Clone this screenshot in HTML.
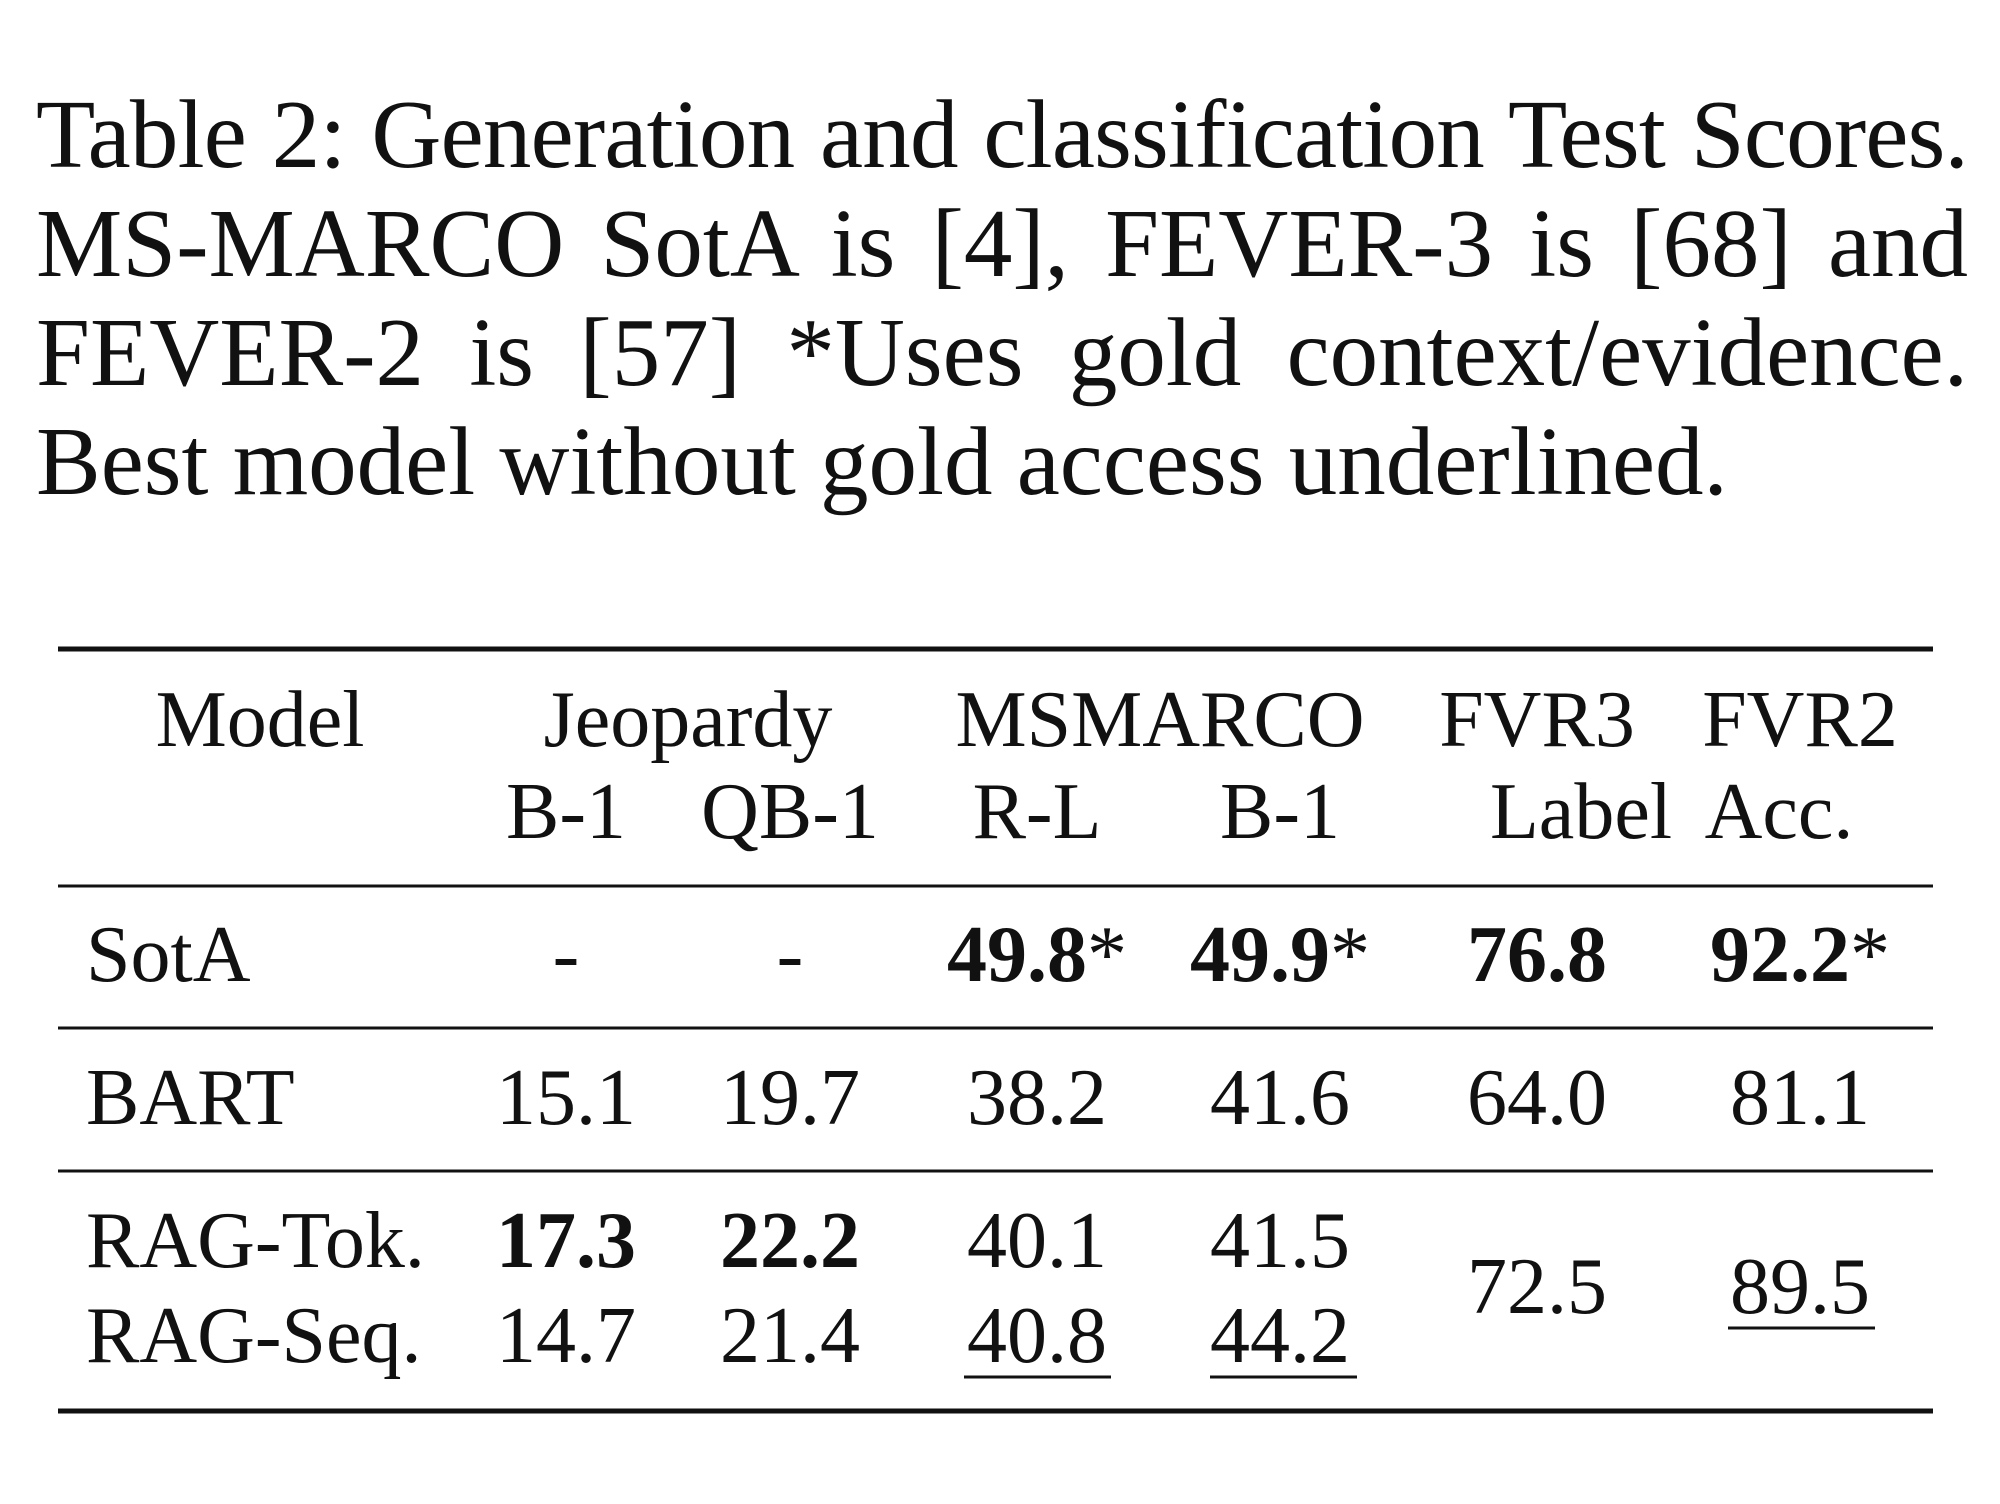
<!DOCTYPE html>
<html><head><meta charset="utf-8"><style>
body{margin:0;background:#fff;width:2000px;height:1504px;overflow:hidden;position:relative;font-family:"Liberation Serif",serif;color:#111}
.c{position:absolute;left:36px;width:1932px;font-size:97px;line-height:97px;white-space:nowrap;text-align:justify;text-align-last:justify}
svg{position:absolute;left:0;top:0}
</style></head><body>
<div class="c" style="top:86px;letter-spacing:-0.8px">Table 2: Generation and classification Test Scores.</div>
<div class="c" style="top:195px">MS-MARCO SotA is [4], FEVER-3 is [68] and</div>
<div class="c" style="top:304px">FEVER-2 is [57] *Uses gold context/evidence.</div>
<div class="c" style="top:413px;text-align:left;text-align-last:left">Best model without gold access underlined.</div>
<svg width="2000" height="1504" font-family="Liberation Serif, serif" font-size="80" fill="#111">
<g stroke="#111">
<line x1="58" x2="1933" y1="649" y2="649" stroke-width="5"/>
<line x1="58" x2="1933" y1="886" y2="886" stroke-width="3"/>
<line x1="58" x2="1933" y1="1028" y2="1028" stroke-width="3"/>
<line x1="58" x2="1933" y1="1171" y2="1171" stroke-width="3"/>
<line x1="58" x2="1933" y1="1411" y2="1411" stroke-width="5"/>
<line x1="964" x2="1111" y1="1377" y2="1377" stroke-width="3"/>
<line x1="1210" x2="1357" y1="1377" y2="1377" stroke-width="3"/>
<line x1="1728" x2="1875" y1="1328" y2="1328" stroke-width="3"/>
</g>
<g text-anchor="middle">
<text x="260" y="746">Model</text>
<text x="688" y="746">Jeopardy</text>
<text x="1160" y="746">MSMARCO</text>
<text x="1537" y="746">FVR3</text>
<text x="1800" y="746">FVR2</text>
<text x="566" y="838">B-1</text>
<text x="790" y="838">QB-1</text>
<text x="1037" y="838">R-L</text>
<text x="1280" y="838">B-1</text>
<text x="1581" y="838">Label</text>
<text x="1779" y="838">Acc.</text>
<text x="566" y="981">-</text>
<text x="790" y="981">-</text>
<text x="1037" y="981"><tspan font-weight="bold">49.8</tspan>*</text>
<text x="1280" y="981"><tspan font-weight="bold">49.9</tspan>*</text>
<text x="1537" y="981" font-weight="bold">76.8</text>
<text x="1800" y="981"><tspan font-weight="bold">92.2</tspan>*</text>
<text x="566" y="1124">15.1</text>
<text x="790" y="1124">19.7</text>
<text x="1037" y="1124">38.2</text>
<text x="1280" y="1124">41.6</text>
<text x="1537" y="1124">64.0</text>
<text x="1800" y="1124">81.1</text>
<text x="566" y="1267" font-weight="bold">17.3</text>
<text x="790" y="1267" font-weight="bold">22.2</text>
<text x="1037" y="1267">40.1</text>
<text x="1280" y="1267">41.5</text>
<text x="566" y="1362">14.7</text>
<text x="790" y="1362">21.4</text>
<text x="1037" y="1362">40.8</text>
<text x="1280" y="1362">44.2</text>
<text x="1537" y="1313">72.5</text>
<text x="1800" y="1313">89.5</text>
</g>
<text x="86" y="981">SotA</text>
<text x="86" y="1124">BART</text>
<text x="86" y="1267">RAG-Tok.</text>
<text x="86" y="1362">RAG-Seq.</text>
</svg>
</body></html>
